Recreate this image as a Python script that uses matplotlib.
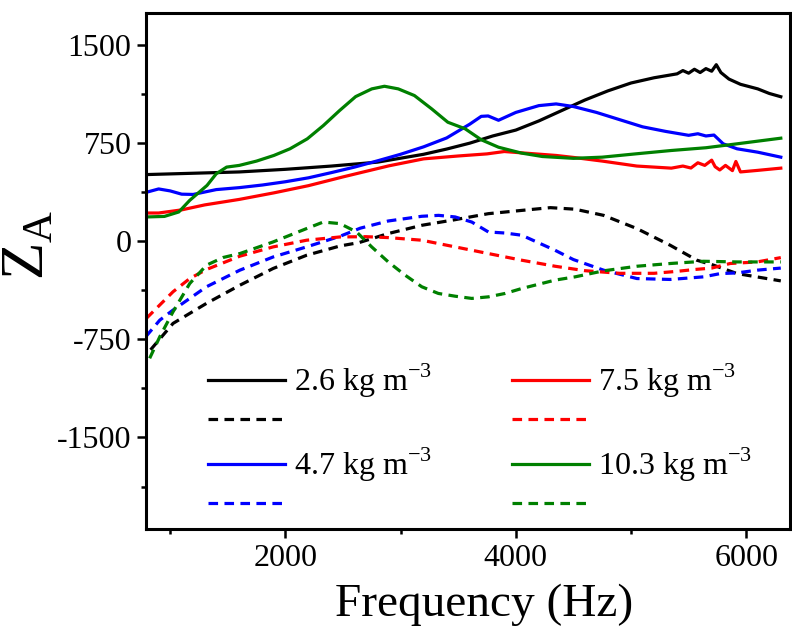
import matplotlib
matplotlib.use("Agg")
import matplotlib.pyplot as plt
import numpy as np

plt.rcParams['font.family'] = ['Liberation Serif', 'DejaVu Serif']
plt.rcParams['mathtext.fontset'] = 'custom'
plt.rcParams['mathtext.rm'] = 'Liberation Serif'
plt.rcParams['axes.unicode_minus'] = False

# ---------------- data ----------------
labels = ["2.6 kg m$^\\mathregular{-3}$", "4.7 kg m$^\\mathregular{-3}$",
          "7.5 kg m$^\\mathregular{-3}$", "10.3 kg m$^\\mathregular{-3}$"]
colors = ["#000000", "#0000FF", "#FF0000", "#008000"]

# 2.6 kg m-3
f_k_re = [800, 1200, 1600, 2000, 2400, 2800, 3000, 3200, 3400, 3600, 3800, 4000, 4200, 4400,
          4600, 4800, 5000, 5200, 5400, 5450, 5500, 5550, 5600, 5650, 5700, 5740, 5780, 5850, 5950,
          6100, 6200, 6300]
z_k_re = [510, 520, 530, 550, 575, 605, 635, 665, 705, 750, 805, 850, 920, 1000,
          1080, 1150, 1210, 1250, 1280, 1305, 1285, 1315, 1290, 1320, 1300, 1350, 1290, 1240, 1200,
          1165, 1130, 1105]
f_k_im = [830, 1025, 1315, 1605, 1894, 2184, 2474, 2640, 2893, 3184, 3473, 3762, 4052, 4300,
          4515, 4762, 5051, 5341, 5572, 5717, 5920, 6300]
z_k_im = [-830, -628, -475, -336, -208, -107, -36, -10, 59, 122, 165, 211, 236, 257,
          245, 198, 97, -31, -145, -183, -247, -303]

# 4.7 kg m-3
f_b_re = [800, 900, 1000, 1100, 1200, 1400, 1600, 1800, 2000, 2200, 2400, 2600, 2800, 3000,
          3200, 3400, 3600, 3700, 3760, 3850, 3900, 4000, 4200, 4350, 4500, 4700, 4900, 5100,
          5300, 5500, 5580, 5650, 5720, 5800, 5920, 6100, 6300]
z_b_re = [376, 400, 385, 360, 358, 395, 410, 430, 455, 485, 525, 567, 615, 665,
          722, 790, 895, 955, 958, 925, 945, 985, 1037, 1050, 1030, 985, 930, 875,
          840, 810, 822, 805, 812, 745, 707, 681, 643]
f_b_im = [788, 910, 1025, 1315, 1605, 1894, 2184, 2474, 2650, 2893, 3184, 3330, 3473, 3618,
          3762, 3907, 4052, 4341, 4500, 4762, 5051, 5341, 5630, 5775, 5920, 6095, 6300]
z_b_im = [-730, -603, -526, -348, -221, -120, -43, 38, 100, 155, 191, 198, 186, 147,
          71, 63, 46, -69, -140, -221, -285, -292, -272, -247, -242, -221, -205]

# 7.5 kg m-3
f_r_re = [800, 900, 1100, 1300, 1600, 1900, 2200, 2500, 2650, 2900, 3200, 3500, 3750, 3900,
          4050, 4350, 4500, 4750, 5050, 5350, 5450, 5520, 5580, 5640, 5700, 5730, 5770, 5820,
          5880, 5910, 5950, 6100, 6300]
z_r_re = [216, 216, 240, 278, 320, 370, 425, 492, 524, 577, 630, 652, 668, 686,
          676, 656, 641, 613, 575, 559, 575, 560, 600, 580, 620, 570, 545, 580,
          540, 610, 530, 542, 559]
f_r_im = [793, 1025, 1170, 1315, 1605, 1894, 2184, 2474, 2700, 2893, 3184, 3473, 3762, 4052,
          4341, 4600, 4900, 5200, 5400, 5550, 5700, 5860, 6095, 6300]
z_r_im = [-590, -386, -285, -216, -114, -43, 8, 33, 35, 28, 8, -43, -94, -145,
          -191, -225, -245, -245, -230, -216, -205, -170, -158, -125]

# 10.3 kg m-3
f_g_re = [800, 950, 1075, 1170, 1320, 1400, 1490, 1600, 1750, 1900, 2040, 2190, 2330, 2470,
          2610, 2750, 2860, 2980, 3120, 3270, 3410, 3560, 3700, 3850, 4050, 4230, 4500, 4750,
          5050, 5350, 5650, 5920, 6300]
z_g_re = [186, 190, 224, 313, 427, 516, 567, 580, 613, 656, 707, 783, 885, 999,
          1106, 1165, 1185, 1165, 1114, 1012, 910, 860, 776, 719, 674, 648, 634, 643,
          669, 694, 715, 745, 788]
f_g_im = [822, 910, 1025, 1170, 1315, 1460, 1605, 1894, 2184, 2329, 2474, 2618, 2749, 2893,
          3039, 3184, 3328, 3473, 3618, 3762, 3907, 4052, 4341, 4515, 4762, 5051, 5341, 5630,
          5920, 6300]
z_g_im = [-895, -730, -539, -323, -183, -124, -94, -5, 97, 147, 135, 71, -43, -158,
          -259, -348, -399, -420, -437, -425, -399, -361, -297, -272, -226, -191, -170, -153,
          -158, -158]

x_ticks = [2000, 4000, 6000]
y_ticks = [-1500, -750, 0, 750, 1500]

# ---------------- plot ----------------
fig = plt.figure(figsize=(7.92, 6.35), dpi=100)
ax = fig.add_axes([0.1843, 0.1669, 0.8132, 0.8126])

lw = 2.3
dash = (0, (3.0, 2.0))
series = [
    (f_k_re, z_k_re, f_k_im, z_k_im),
    (f_b_re, z_b_re, f_b_im, z_b_im),
    (f_r_re, z_r_re, f_r_im, z_r_im),
    (f_g_re, z_g_re, f_g_im, z_g_im),
]
handles = []
leg_labels = []
for (fr, zr, fi, zi), c, lab in zip(series, colors, labels):
    h1, = ax.plot(fr, zr, color=c, lw=lw, solid_joinstyle='round')
    h2, = ax.plot(fi, zi, color=c, lw=lw, linestyle=dash)
    handles += [h1, h2]
    leg_labels += [lab, " "]

ax.set_xlim(790, 6380)
ax.set_ylim(-2200, 1745)
ax.set_xticks(x_ticks)
ax.set_yticks(y_ticks)
ax.set_xticks([1000, 3000, 5000], minor=True)
ax.set_yticks([-1875, -1125, -375, 375, 1125], minor=True)
ax.tick_params(which='major', direction='out', length=6.5, width=1.8, labelsize=23, pad=4)
ax.tick_params(which='minor', direction='out', length=3.5, width=1.8)
for s in ax.spines.values():
    s.set_linewidth(2.2)

ax.set_xlabel("Frequency (Hz)", fontsize=34)
ax.xaxis.set_label_coords(0.525, -0.105)
ax.set_ylabel("Z$_\\mathregular{A}$", fontsize=44)
ax.yaxis.set_label_coords(-0.140, 0.55)

leg = ax.legend(handles, leg_labels, ncol=2, frameon=False, fontsize=23,
                loc='lower left', bbox_to_anchor=(0.0963, 0.015),
                handlelength=2.4, handletextpad=0.3, columnspacing=2.5,
                labelspacing=0.25, borderaxespad=0.0, borderpad=0.0)

fig.savefig("out.png", dpi=100)
